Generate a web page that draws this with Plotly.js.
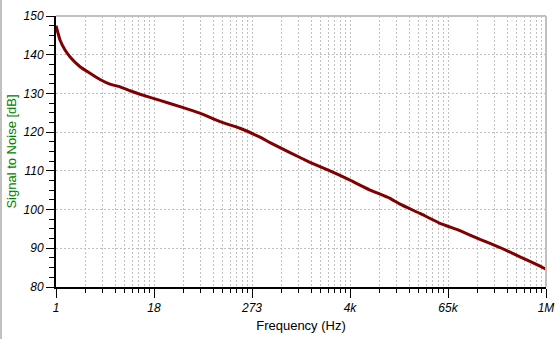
<!DOCTYPE html>
<html>
<head>
<meta charset="utf-8">
<script src="https://cdn.plot.ly/plotly-3.0.1.min.js"></script>
<style>
html,body{margin:0;padding:0;background:#fff;}
#frame{position:absolute;left:0;top:0;width:2px;height:339px;background:#c0c0c0;}
#chart{width:556px;height:339px;}
</style>
</head>
<body>
<div id="chart"></div>
<div id="frame"></div>
<script>
// Data
const frequencyHz = [1, 1.12, 1.29, 1.48, 1.97, 2.61, 3.46, 4.58, 6.08, 8.05, 10.7, 18.75, 33.0, 57.9, 101.9, 179, 315, 417, 733, 1288, 2265, 3981, 7000, 12300, 16300, 28640, 50350, 88500, 155600, 273500, 480800, 845300, 1000000];
const snrDb = [147.5, 143.8, 141.2, 139.5, 136.9, 135.2, 133.6, 132.4, 131.7, 130.7, 129.8, 128.2, 126.6, 124.9, 122.7, 121.0, 118.7, 117.3, 114.7, 112.2, 110.0, 107.6, 105.05, 102.9, 101.4, 99.0, 96.45, 94.55, 92.3, 90.2, 87.8, 85.4, 84.6];

const xTickVals = [1, 15.85, 251.2, 3981, 63096, 1000000];
const xTickText = ['1', '18', '273', '4k', '65k', '1M'];
const yTickVals = [80, 90, 100, 110, 120, 130, 140, 150];

// minor grid: each major division treated as a "decade"
const minorX = [];
for (let d = 0; d < 5; d++) {
  for (let k = 2; k <= 9; k++) {
    minorX.push(Math.pow(10, 1.2 * d + 1.2 * Math.log10(k)));
  }
}

const trace = {
  x: frequencyHz,
  y: snrDb,
  type: 'scatter',
  mode: 'lines',
  line: {color: '#800000', width: 3, shape: 'spline', smoothing: 0.3},
  hoverinfo: 'skip'
};

const tickFont = {family: 'Liberation Sans, Arial, sans-serif', size: 12, color: '#000', style: 'italic'};

const layout = {
  width: 556, height: 339,
  margin: {l: 56, r: 10, t: 16, b: 52},
  paper_bgcolor: '#fff',
  plot_bgcolor: '#fff',
  showlegend: false,
  font: {family: 'Liberation Sans, Arial, sans-serif', size: 12, color: '#000'},
  xaxis: {
    type: 'log',
    range: [0, 6],
    tickmode: 'array',
    tickvals: xTickVals,
    ticktext: xTickText,
    ticks: 'outside',
    ticklen: 9,
    tickwidth: 1,
    tickcolor: '#000',
    tickfont: tickFont,
    showline: true,
    linecolor: '#000',
    linewidth: 2,
    showgrid: true,
    gridcolor: '#c0c0c0',
    griddash: '2px,2px',
    gridwidth: 1,
    zeroline: false,
    minor: {
      tickmode: 'array',
      tickvals: minorX,
      ticks: 'outside',
      ticklen: 4,
      tickcolor: '#000',
      tickwidth: 1,
      showgrid: true,
      gridcolor: '#c0c0c0',
      griddash: '2px,2px',
      gridwidth: 1
    },
    title: {text: 'Frequency (Hz)', font: {size: 13, color: '#000'}, standoff: 6}
  },
  yaxis: {
    range: [80, 150],
    tickmode: 'array',
    tickvals: yTickVals,
    ticks: 'outside',
    ticklen: 8,
    tickwidth: 1,
    tickcolor: '#000',
    tickfont: tickFont,
    showline: true,
    linecolor: '#000',
    linewidth: 2,
    showgrid: true,
    gridcolor: '#c0c0c0',
    griddash: '2px,2px',
    gridwidth: 1,
    zeroline: false,
    minor: {
      dtick: 2.5,
      ticks: 'outside',
      ticklen: 5,
      tickcolor: '#000',
      tickwidth: 1,
      showgrid: false
    },
    title: {text: 'Signal to Noise [dB]', font: {size: 13, color: '#008000'}, standoff: 4}
  },
  shapes: [
    {type: 'line', xref: 'paper', yref: 'paper', x0: 0, x1: 1, y0: 1, y1: 1, line: {color: '#c0c0c0', width: 2}, layer: 'above'},
    {type: 'line', xref: 'paper', yref: 'paper', x0: 1, x1: 1, y0: 0, y1: 1, line: {color: '#c0c0c0', width: 2}, layer: 'above'}
  ]
};

Plotly.newPlot('chart', [trace], layout, {displayModeBar: false, staticPlot: true});
</script>
</body>
</html>
